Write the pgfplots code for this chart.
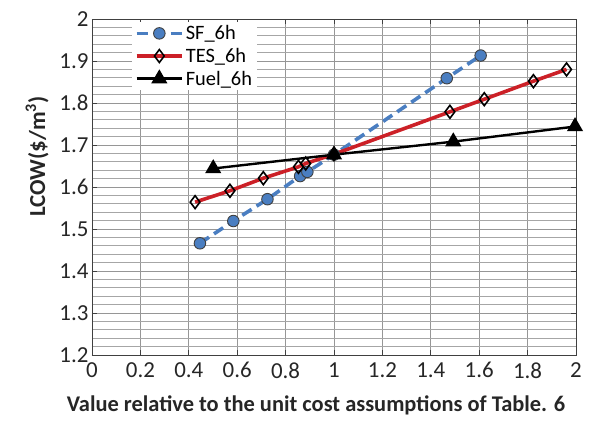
\documentclass[border=0pt]{standalone}
\usepackage{pgfplots}
\pgfplotsset{compat=1.18}
\usepackage{fontspec}
\setmainfont{Carlito}
\definecolor{sfblue}{RGB}{74,126,193}
\definecolor{tesred}{RGB}{204,32,39}
\definecolor{gridgray}{RGB}{150,150,150}
\begin{document}
\begin{tikzpicture}
\begin{axis}[
  scale only axis,
  width=484bp, height=336bp,
  xmin=0, xmax=2, ymin=1.2, ymax=2,
  xtick={0,0.2,...,2.01},
  ytick={1.2,1.3,...,2.01},
  minor y tick num=4,
  xticklabels={0,0.2,0.4,0.6,0.8,1,1.2,1.4,1.6,1.8,2},
  yticklabels={1.2,1.3,1.4,1.5,1.6,1.7,1.8,1.9,2},
  /pgf/number format/assume math mode=true,
  grid=both,
  major grid style={gridgray, line width=0.8pt},
  minor grid style={gridgray!85, line width=0.7pt},
  axis line style={black!75, line width=1pt},
  tick style={black!75, line width=0.8pt},
  minor tick length=0pt,
  major tick length=5pt,
  tick align=inside,
  ticklabel style={font=\fontsize{23}{25}\selectfont, text=black!85},
  xticklabel style={yshift=-4pt},
  xlabel={\textbf{Value relative to the unit cost assumptions of Table. 6}},
  ylabel={\textbf{LCOW(\$/m$^{\mathbf{3}}$)}},
  xlabel style={at={(ticklabel cs:0.463)}, font=\fontsize{22.5}{25}\selectfont,
    yshift=-11pt, text=black!85},
  ylabel style={at={(ticklabel cs:0.59)}, font=\fontsize{23}{25}\selectfont,
    yshift=4pt, text=black!85},
  legend style={at={(0.082,0.993)}, anchor=north west, draw=none, fill=white,
    font=\fontsize{20.5}{23}\selectfont, row sep=3pt, inner xsep=3pt, inner ysep=2pt},
  legend cell align=left,
  legend image code/.code={
    \draw[mark repeat=2,mark phase=2,#1] plot coordinates {(0cm,0cm) (0.8cm,0cm) (1.6cm,0cm)};
  },
]
\addplot[sfblue, line width=3.6pt, dash pattern=on 11pt off 6pt,
  mark=*, mark size=5.8pt, mark options={solid, fill=sfblue, draw=black!75, line width=0.9pt}]
  coordinates {(0.446,1.466) (0.584,1.519) (0.725,1.571) (0.86,1.626) (0.89,1.636)
               (1.0,1.677) (1.466,1.859) (1.606,1.913)};
\addlegendentry{SF\_6h}
\addplot[tesred, line width=3.6pt,
  mark=diamond, mark size=6.5pt, mark options={draw=black, line width=1.6pt}]
  coordinates {(0.426,1.564) (0.570,1.591) (0.708,1.621) (0.853,1.648) (0.883,1.656)
               (1.0,1.678) (1.479,1.779) (1.621,1.809) (1.824,1.852) (1.961,1.880)};
\addlegendentry{TES\_6h}
\addplot[black, line width=2.4pt,
  mark=triangle*, mark size=7pt, mark options={fill=black}]
  coordinates {(0.501,1.644) (1.0,1.677) (1.493,1.708) (1.996,1.744)};
\addlegendentry{Fuel\_6h}
\end{axis}
\pgfresetboundingbox
\path ([xshift=-92bp,yshift=-66bp]current axis.south west) rectangle
      ([xshift=31bp,yshift=19bp]current axis.north east);
\end{tikzpicture}
\end{document}
